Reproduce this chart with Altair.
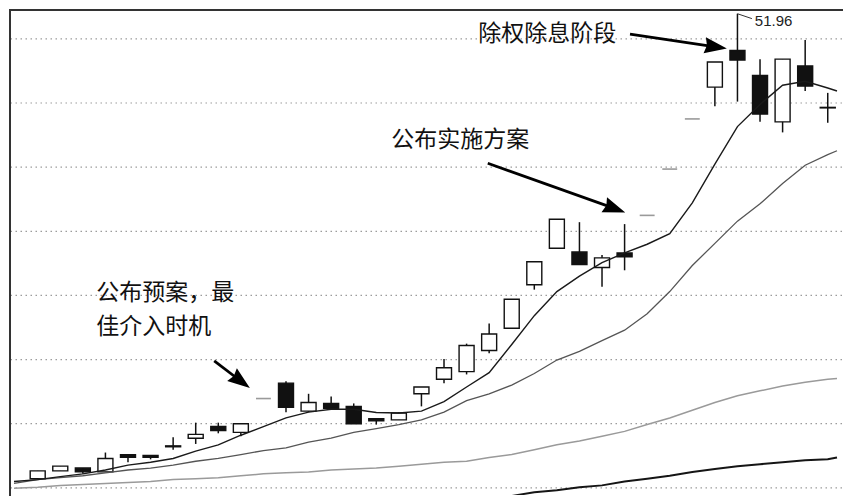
import altair as alt
import pandas as pd

# ---------------- data ----------------
idx = list(range(1, 37))
open_ = [15.71, 16.32, 16.54, 16.24, 17.59, 17.52, 18.27, 18.87, 19.78, 19.32,
         21.96, 23.16, 20.98, 21.58, 21.35, 20.38, 20.30, 22.33, 23.46, 24.06,
         25.71, 27.44, 30.83, 33.68, 33.38, 32.18, 33.31, 36.24, 39.85, 43.76,
         46.24, 49.10, 47.14, 43.53, 47.89, 44.66]
high = [16.32, 16.69, 16.54, 17.75, 17.59, 17.52, 18.95, 20.08, 20.08, 20.00,
        21.96, 23.31, 22.33, 22.11, 21.58, 20.38, 20.90, 22.86, 25.04, 26.24,
        27.82, 29.70, 32.63, 35.94, 35.71, 33.16, 35.56, 36.24, 39.85, 43.76,
        48.20, 51.96, 48.42, 48.42, 49.92, 45.79]
low = [15.71, 16.32, 16.09, 16.24, 16.99, 17.22, 17.97, 18.42, 19.25, 19.02,
       21.96, 20.90, 20.90, 21.20, 20.00, 19.93, 20.30, 21.35, 23.16, 23.84,
       25.49, 27.44, 30.45, 33.68, 32.41, 30.68, 31.96, 36.24, 39.85, 43.76,
       44.74, 45.11, 43.53, 42.71, 45.94, 43.46]
close = [16.32, 16.69, 16.24, 17.29, 17.37, 17.37, 18.20, 19.17, 19.47, 20.00,
         21.96, 21.28, 21.65, 21.20, 20.00, 20.23, 20.83, 22.86, 24.36, 26.09,
         26.99, 29.70, 32.63, 35.94, 32.41, 32.93, 33.01, 36.24, 39.85, 43.76,
         48.20, 48.35, 44.14, 48.42, 46.32, 44.62]

ma_x = [-0.05] + idx + [36.41]
ma5 = [15.49, 15.64, 15.87, 16.09, 16.39, 16.77, 16.99, 17.29, 17.86, 18.35,
       19.10, 19.77, 20.45, 20.90, 21.13, 21.13, 20.87, 20.83, 20.98, 21.72,
       22.86, 23.98, 26.17, 28.42, 30.30, 31.50, 32.56, 33.31, 33.99, 34.81,
       37.22, 40.23, 43.16, 44.89, 46.39, 46.69, 46.17, 45.94]
ma10 = [15.34, 15.64, 15.79, 15.94, 16.17, 16.39, 16.54, 16.77, 17.07, 17.29,
        17.59, 17.90, 18.12, 18.57, 18.87, 19.32, 19.62, 19.93, 20.30, 20.90,
        21.80, 22.33, 23.01, 23.91, 24.96, 25.64, 26.47, 27.29, 28.57, 30.30,
        32.33, 34.06, 35.79, 37.14, 38.72, 40.15, 40.98, 41.28]
ma20 = [14.96, 15.04, 15.19, 15.26, 15.34, 15.41, 15.49, 15.64, 15.71, 15.79,
        15.94, 16.09, 16.17, 16.24, 16.39, 16.47, 16.54, 16.69, 16.84, 16.99,
        17.07, 17.37, 17.59, 17.97, 18.35, 18.65, 19.02, 19.40, 19.93, 20.45,
        21.05, 21.65, 22.18, 22.56, 22.93, 23.23, 23.46, 23.53]
ma60_x = list(range(22, 37)) + [36.41]
ma60 = [14.36, 14.66, 14.81, 15.04, 15.19, 15.49, 15.71, 15.94, 16.24, 16.47,
        16.69, 16.84, 16.99, 17.14, 17.22, 17.37]

grid_levels = [15, 20, 25, 30, 35, 40, 45, 50]

# annotations (text and arrows, in data units)
note_text = ["公布预案，最\n佳介入时机", "公布实施方案", "除权除息阶段"]
note_x = [3.59, 16.66, 20.52]
note_y = [30.20, 42.11, 50.38]

arrow_x = [8.82, 20.94, 27.24]
arrow_y = [24.89, 40.30, 50.38]
arrow_x2 = [10.06, 26.64, 31.10]
arrow_y2 = [23.23, 36.73, 49.36]
tip_x = [10.40, 27.03, 31.53]
tip_y = [22.78, 36.47, 49.25]
tip_angle = [127, 110, 98.5]

peak_label = "51.96"
peak_x, peak_y = 32, 51.96
peak_label_x, peak_label_y = 32.77, 51.43
peak_lead_x, peak_lead_y = 32.64, 51.58

# ---------------- chart ----------------
W, H = 835, 488
XS = alt.Scale(domain=[-0.05, 36.41], nice=False, zero=False)
YS = alt.Scale(domain=[14.44, 52.33], nice=False, zero=False)


def X(f):
    return alt.X(f, type="quantitative", scale=XS, axis=None)


def Y(f):
    return alt.Y(f, type="quantitative", scale=YS, axis=None)


candles = pd.DataFrame({"idx": idx, "open": open_, "high": high,
                        "low": low, "close": close})
base = alt.Chart(candles)

grid = alt.Chart(pd.DataFrame({"g": grid_levels})).mark_rule(
    color="#9c9c9c", strokeWidth=1.2, strokeDash=[1.5, 3.5]
).encode(y=Y("g"))

wicks = base.transform_filter("datum.high > datum.low").mark_rule(
    color="#111111", strokeWidth=1.5
).encode(x=X("idx"), y=Y("low"), y2="high")

bodies = base.transform_filter("datum.high > datum.low").mark_bar(
    size=15, orient="vertical", stroke="#111111", strokeWidth=1.4
).encode(
    x=X("idx"), y=Y("open"), y2="close",
    fill=alt.condition("datum.close >= datum.open",
                       alt.value("white"), alt.value("#111111")),
)

dashes = base.transform_filter("datum.high == datum.low").transform_calculate(
    xl="datum.idx - 0.33", xr="datum.idx + 0.33"
).mark_rule(color="#9a9a9a", strokeWidth=1.6).encode(
    x=X("xl"), x2="xr", y=Y("close")
)


def ma_layer(xs, ys, color, width):
    df = pd.DataFrame({"x": xs, "v": ys})
    return alt.Chart(df).mark_line(color=color, strokeWidth=width, clip=True).encode(
        x=X("x"), y=Y("v"), order="x:Q"
    )


lines = [
    ma_layer(ma_x, ma20, "#9a9a9a", 1.5),
    ma_layer(ma60_x, ma60, "#151515", 2.0),
    ma_layer(ma_x, ma10, "#555555", 1.3),
    ma_layer(ma_x, ma5, "#1a1a1a", 1.4),
]

arrows_df = pd.DataFrame({"x": arrow_x, "y": arrow_y, "x2": arrow_x2, "y2": arrow_y2,
                          "tx": tip_x, "ty": tip_y, "ang": tip_angle})
shafts = alt.Chart(arrows_df).mark_rule(color="#000000", strokeWidth=2.8).encode(
    x=X("x"), y=Y("y"), x2="x2", y2="y2"
)
heads = alt.Chart(arrows_df).mark_point(
    shape="M0,0 L0.36,1 L0,0.9 L-0.36,1 Z", filled=True, size=2000,
    color="#000000", opacity=1
).encode(x=X("tx"), y=Y("ty"), angle=alt.Angle("ang:Q", scale=None))

notes = alt.Chart(pd.DataFrame({"x": note_x, "y": note_y, "t": note_text})).mark_text(
    align="left", baseline="middle", font="Noto Sans CJK SC", fontSize=23,
    color="#111111", lineBreak="\n", lineHeight=34
).encode(x=X("x"), y=Y("y"), text="t:N")

peak_df = pd.DataFrame({"x": [peak_x], "y": [peak_y], "lx": [peak_label_x],
                        "ly": [peak_label_y], "mx": [peak_lead_x], "my": [peak_lead_y],
                        "t": [peak_label]})
peak_lead = alt.Chart(peak_df).mark_rule(color="#333333", strokeWidth=1).encode(
    x=X("x"), y=Y("y"), x2="mx", y2="my"
)
peak_text = alt.Chart(peak_df).mark_text(
    align="left", baseline="middle", font="Liberation Sans", fontSize=15,
    color="#222222"
).encode(x=X("lx"), y=Y("ly"), text="t:N")

border_top = alt.Chart(pd.DataFrame({"a": [0]})).mark_rule(
    color="#333333", strokeWidth=2
).encode(x=alt.value(0), x2=alt.value(W), y=alt.value(1))
border_left = alt.Chart(pd.DataFrame({"a": [0]})).mark_rule(
    color="#333333", strokeWidth=2
).encode(x=alt.value(1), y=alt.value(0), y2=alt.value(H))

chart = alt.layer(
    grid, wicks, bodies, dashes, *lines, shafts, heads, notes,
    peak_lead, peak_text, border_top, border_left
).properties(
    width=W, height=H, padding=0,
    autosize=alt.AutoSizeParams(type="fit", contains="padding"),
    background="white",
).configure_view(stroke=None)

chart.save("out.html", embed_options={"renderer": "svg", "actions": False})
